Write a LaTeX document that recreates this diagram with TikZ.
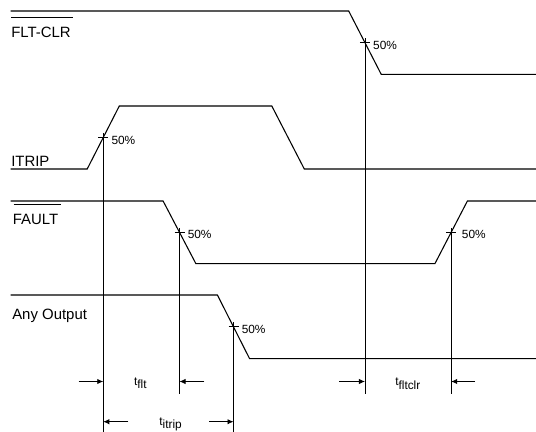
\documentclass[tikz,border=0pt]{standalone}
\usepackage{fontspec}
\setmainfont{Liberation Sans}
\usetikzlibrary{arrows.meta}
\newcommand{\tsub}[1]{t\raisebox{-2.5pt}{#1}}

\begin{document}
\begin{tikzpicture}[x=0.75pt,y=-0.75pt,
    wave/.style={line width=0.8pt},
    guide/.style={line width=0.6pt},
    dimarr/.style={line width=0.6pt,-{Latex[length=4.5pt,width=4pt]}},
    lbl/.style={anchor=base west,inner sep=0pt,font=\fontsize{11.2}{13}\selectfont},
    pct/.style={anchor=west,inner sep=0pt,font=\fontsize{8.9}{10}\selectfont},
    tlbl/.style={inner sep=0pt,font=\fontsize{8.9}{10}\selectfont}]
  \useasboundingbox (0,0) rectangle (536,432);
  % signals
  \draw[wave] (10.6,11) -- (348.7,11) -- coordinate (clr50) (381.2,74.3) -- (536,74.3);
  \draw[wave] (10.6,169) -- (87.2,169) -- coordinate (itr50) (119.3,106) -- (271.8,106)
    -- (304.3,169) -- (536,169);
  \draw[wave] (10.6,201) -- (163.1,201) -- coordinate (flt50) (195.9,263.7) -- (434.9,263.7)
    -- coordinate (fltr50) (467.4,201) -- (536,201);
  \draw[wave] (10.6,295) -- (217.4,295) -- coordinate (out50) (249.6,358.7) -- (536,358.7);
  % names
  \draw (11,37.3) node[lbl]{FLT-CLR};
  \draw[guide] (11,17.3) -- (72.7,17.3);
  \draw (11,166) node[lbl]{ITRIP};
  \draw (12.5,224) node[lbl]{FAULT};
  \draw[guide] (13.7,204.3) -- (60.9,204.3);
  \draw (12,319.5) node[lbl]{Any Output};
  % 50% marks
  \coordinate (ymid) at (0,394);
  \coordinate (ylow) at (0,432);
  \foreach \m/\b/\dx in {clr50/ymid/8, itr50/ylow/8, flt50/ymid/8, fltr50/ymid/10.5, out50/ylow/8} {
    \draw[guide] (\m) ++(-5,0) -- ++(10,0);
    \draw[guide] (\m) ++(0,-4.5) -- (\m |- \b);
    \path (\m) ++(\dx,2.5) node[pct]{50\%};
  }
  % timings
  \coordinate (rowa) at (0,381.5);
  \coordinate (rowb) at (0,421.7);
  \draw[dimarr] (78.6,381.5) -- (itr50 |- rowa);
  \draw[dimarr] (204.4,381.5) -- (flt50 |- rowa);
  \draw[dimarr] (339,381.5) -- (clr50 |- rowa);
  \draw[dimarr] (475,381.5) -- (fltr50 |- rowa);
  \draw[dimarr] (128.3,421.7) -- (itr50 |- rowb);
  \draw[dimarr] (209,421.7) -- (out50 |- rowb);
  \draw (140.3,383) node[tlbl]{\tsub{flt}};
  \draw (407.8,383.7) node[tlbl]{\tsub{fltclr}};
  \draw (170.6,424.5) node[tlbl]{\tsub{itrip}};
\end{tikzpicture}
\end{document}
